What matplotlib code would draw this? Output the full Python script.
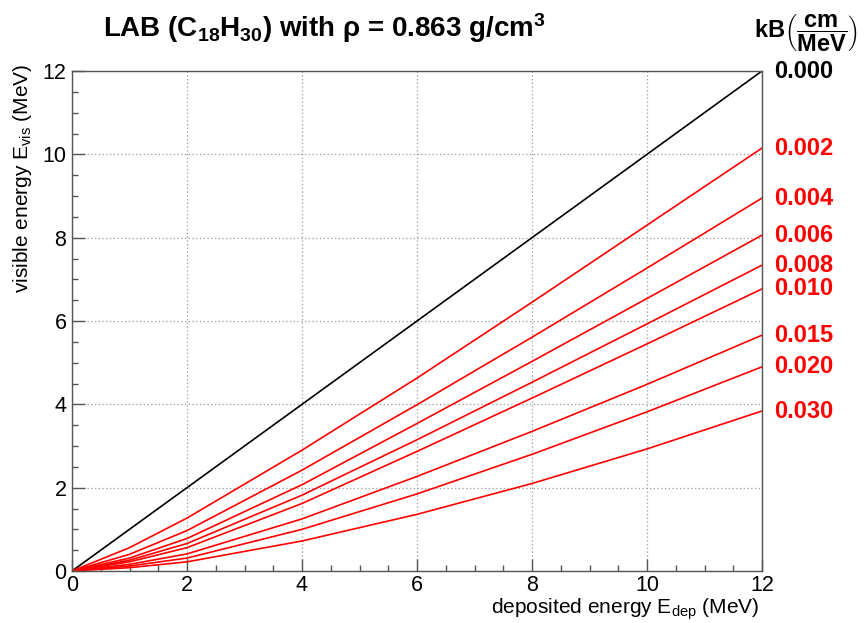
import matplotlib
matplotlib.use("Agg")
import matplotlib.pyplot as plt
from matplotlib.ticker import MultipleLocator

plt.rcParams["font.family"] = ["Liberation Sans", "DejaVu Sans"]
plt.rcParams["mathtext.fontset"] = "custom"
plt.rcParams["mathtext.rm"] = "Liberation Sans"
plt.rcParams["mathtext.it"] = "Liberation Sans:italic"
plt.rcParams["mathtext.bf"] = "Liberation Sans:bold"
plt.rcParams["mathtext.sf"] = "Liberation Sans"

# Deposited energy sample points (MeV)
e_dep = [0, 1, 2, 4, 6, 8, 10, 12]

# Birks constants (cm/MeV) and the visible energy (MeV) for each
kb_labels = ["0.000", "0.002", "0.004", "0.006", "0.008", "0.010", "0.015", "0.020", "0.030"]
e_vis_000 = [0, 1, 2, 4, 6, 8, 10, 12]
e_vis_002 = [0, 0.56, 1.27, 2.90, 4.63, 6.45, 8.30, 10.15]
e_vis_004 = [0, 0.40, 0.97, 2.42, 3.99, 5.61, 7.27, 8.95]
e_vis_006 = [0, 0.31, 0.78, 2.07, 3.54, 5.03, 6.54, 8.06]
e_vis_008 = [0, 0.26, 0.66, 1.82, 3.15, 4.53, 5.93, 7.34]
e_vis_010 = [0, 0.22, 0.56, 1.62, 2.87, 4.15, 5.45, 6.77]
e_vis_015 = [0, 0.16, 0.41, 1.25, 2.27, 3.35, 4.48, 5.66]
e_vis_020 = [0, 0.12, 0.31, 1.00, 1.85, 2.80, 3.82, 4.90]
e_vis_030 = [0, 0.08, 0.22, 0.72, 1.36, 2.10, 2.93, 3.84]

series = [e_vis_000, e_vis_002, e_vis_004, e_vis_006, e_vis_008,
          e_vis_010, e_vis_015, e_vis_020, e_vis_030]

W, H = 864, 623
fig = plt.figure(figsize=(W / 100, H / 100), dpi=100)
ax = fig.add_axes([72 / W, 1 - 571 / H, 690 / W, 500 / H])

for label, vis in zip(kb_labels, series):
    col = "black" if label == "0.000" else "#ff0000"
    ax.plot(e_dep, vis, color=col, lw=1.2, solid_joinstyle="round")
    ax.annotate(label, xy=(e_dep[-1], vis[-1]), xytext=(9, 0),
                textcoords="offset points", ha="left", va="center",
                fontsize=17, fontweight="bold", color=col,
                annotation_clip=False)

ax.set_xlim(0, 12)
ax.set_ylim(0, 12)
ax.xaxis.set_major_locator(MultipleLocator(2))
ax.yaxis.set_major_locator(MultipleLocator(2))
ax.xaxis.set_minor_locator(MultipleLocator(0.5))
ax.yaxis.set_minor_locator(MultipleLocator(0.5))

frame_col = "#555555"
for sp in ax.spines.values():
    sp.set_color(frame_col)
    sp.set_linewidth(1.0)

ax.tick_params(which="both", direction="in", top=False, right=False,
               color=frame_col, labelsize=15.5)
ax.tick_params(which="major", length=9, width=1.0)
ax.tick_params(which="minor", length=4.5, width=1.0)
ax.tick_params(axis="x", pad=3)
ax.tick_params(axis="y", pad=4)

ax.grid(True, which="major", color="#9a9a9a", linestyle=(0, (1, 2)), lw=0.9)
ax.set_axisbelow(True)

fig.text(759 / W, 1 - 614 / H, "deposited energy E$_{\\rm dep}$ (MeV)",
         fontsize=15, ha="right", va="baseline")
fig.text(23 / W, 1 - 64 / H, "visible energy E$_{\\rm vis}$ (MeV)",
         fontsize=15, ha="center", va="top", rotation=90)

fig.text(103 / W, 1 - 37 / H,
         "LAB (C$_{\\mathbf{18}}$H$_{\\mathbf{30}}$) with \u03c1 = 0.863 g/cm$^{\\mathbf{3}}$",
         fontsize=20, fontweight="bold", ha="left", va="baseline")
fig.text(754 / W, 1 - 33 / H,
         "kB$\\left(\\dfrac{\\mathbf{cm}}{\\mathbf{MeV}}\\right)$",
         fontsize=17, fontweight="bold", ha="left", va="center")

fig.savefig("out.png", dpi=100)
